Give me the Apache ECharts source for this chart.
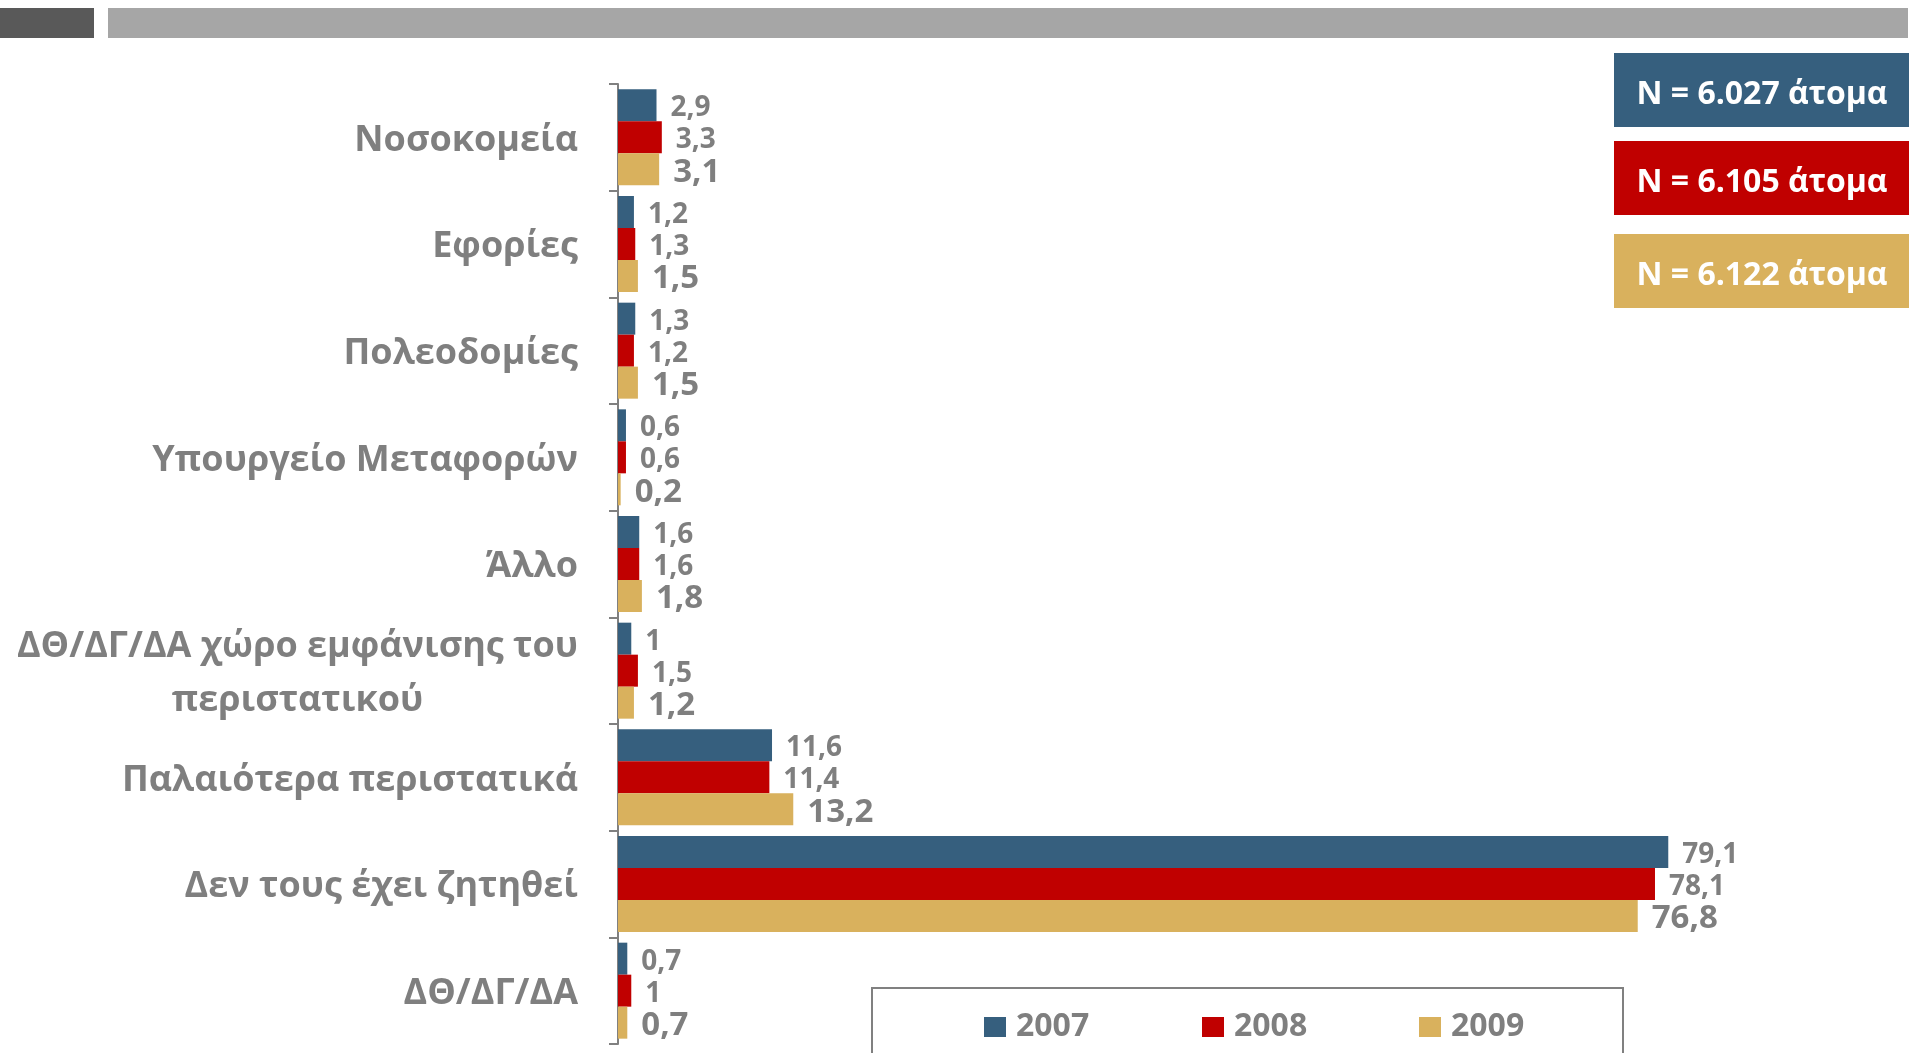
<!DOCTYPE html>
<html>
<head>
<meta charset="utf-8">
<script src="https://cdn.jsdelivr.net/npm/echarts@6/dist/echarts.min.js"></script>
<style>
  html, body { margin: 0; padding: 0; background: #fff; }
  #main { width: 1912px; height: 1053px; }
</style>
</head>
<body>
<div id="main"></div>
<script>
// δεδομένα
var categories = ['Νοσοκομεία', 'Εφορίες', 'Πολεοδομίες', 'Υπουργείο Μεταφορών', 'Άλλο',
    'ΔΘ/ΔΓ/ΔΑ χώρο εμφάνισης του\nπεριστατικού', 'Παλαιότερα περιστατικά', 'Δεν τους έχει ζητηθεί', 'ΔΘ/ΔΓ/ΔΑ'];
var years = ['2007', '2008', '2009'];
var v2007 = [2.9, 1.2, 1.3, 0.6, 1.6, 1, 11.6, 79.1, 0.7];
var v2008 = [3.3, 1.3, 1.2, 0.6, 1.6, 1.5, 11.4, 78.1, 1];
var v2009 = [3.1, 1.5, 1.5, 0.2, 1.8, 1.2, 13.2, 76.8, 0.7];
var sampleLabels = ['N = 6.027 άτομα', 'N = 6.105 άτομα', 'N = 6.122 άτομα'];

var colors = ['#365f7e', '#c00000', '#d9b15d'];
var gray = '#7f7f7f';
var font = '"Open Sans", sans-serif';

var myChart = echarts.init(document.getElementById('main'));

function fmt(p) {
    return String(p.value).replace('.', ',');
}

function makeSeries(name, data, i, size) {
    return {
        name: name,
        type: 'bar',
        data: data,
        barGap: '0%',
        barCategoryGap: '10%',
        itemStyle: { color: colors[i] },
        label: {
            show: true,
            position: 'right',
            distance: 14,
            offset: [0, 3],
            formatter: fmt,
            color: gray,
            fontFamily: font,
            fontWeight: 'bold',
            fontSize: size
        }
    };
}

// κουτιά Ν
var graphics = [
    { type: 'rect', shape: { x: 0, y: 8, width: 94, height: 30 }, style: { fill: '#595959' } },
    { type: 'rect', shape: { x: 108, y: 8, width: 1800, height: 30 }, style: { fill: '#a6a6a6' } },
    { type: 'rect', z: 10, shape: { x: 872, y: 988, width: 751, height: 80 },
      style: { fill: '#fff', stroke: '#808080', lineWidth: 2 } }
];
var boxTops = [53, 141, 234];
sampleLabels.forEach(function(t, i) {
    graphics.push({ type: 'rect', shape: { x: 1614, y: boxTops[i], width: 295, height: 74 }, style: { fill: colors[i] } });
    graphics.push({ type: 'text', x: 1762, y: boxTops[i] + 42,
        style: { text: t, fill: '#fff', font: 'bold 32px ' + font, textAlign: 'center', textVerticalAlign: 'middle' } });
});

var legendLeft = [984, 1202, 1419];
var legends = years.map(function(y, i) {
    return {
        data: [y],
        left: legendLeft[i],
        top: 1011,
        padding: 0,
        z: 20,
        icon: 'rect',
        itemWidth: 22,
        itemHeight: 20,
        selectedMode: false,
        textStyle: { color: gray, fontFamily: font, fontWeight: 'bold', fontSize: 32, lineHeight: 20, padding: [0, 0, 0, 5] }
    };
});

var option = {
    animation: false,
    graphic: graphics,
    legend: legends,
    grid: { left: 618, right: 99, top: 84, bottom: 9, containLabel: false },
    xAxis: {
        type: 'value',
        min: 0,
        max: 90,
        show: false
    },
    yAxis: {
        type: 'category',
        inverse: true,
        data: categories,
        axisLine: { show: true, lineStyle: { color: '#808080', width: 2 } },
        axisTick: { show: true, length: 9, lineStyle: { color: '#808080', width: 2 } },
        axisLabel: {
            margin: 40,
            formatter: function(v) {
                return v.split('\n').map(function(s) { return '{c|' + s + '}'; }).join('\n');
            },
            rich: {
                c: { align: 'center', color: gray, fontFamily: font, fontWeight: 'bold', fontSize: 36,
                     lineHeight: 54, padding: [6, 0, 0, 0] }
            }
        }
    },
    series: [
        makeSeries('2007', v2007, 0, 28),
        makeSeries('2008', v2008, 1, 28),
        makeSeries('2009', v2009, 2, 33)
    ]
};

myChart.setOption(option);
</script>
</body>
</html>
